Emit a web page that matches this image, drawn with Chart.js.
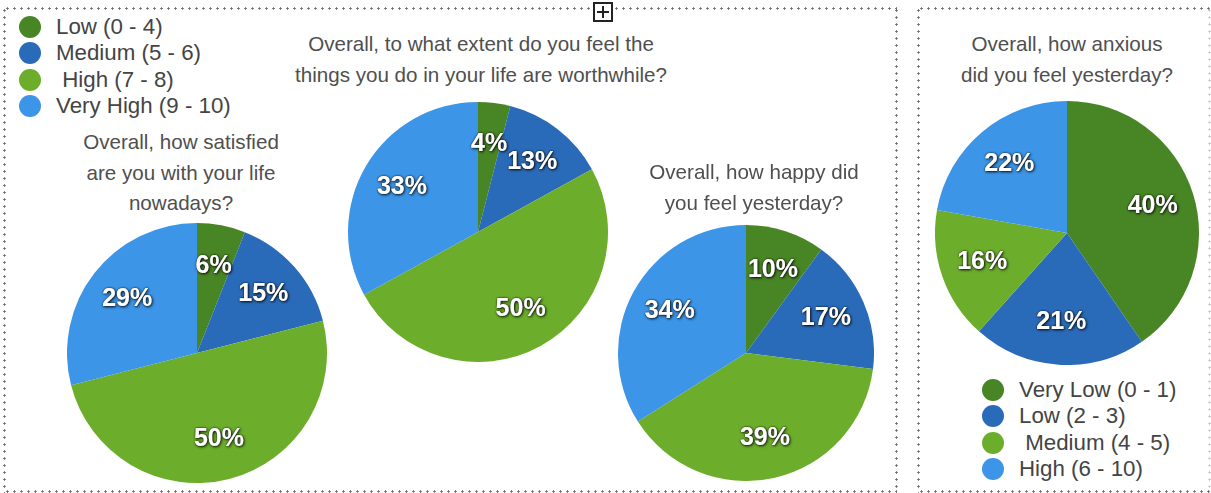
<!DOCTYPE html>
<html>
<head>
<meta charset="utf-8">
<script src="https://cdn.jsdelivr.net/npm/chart.js@4.4.1/dist/chart.umd.min.js"></script>
<style>
    body { margin: 0; background: #fff; }
    #page { position: relative; width: 1211px; height: 493px; overflow: hidden; font-family: "Liberation Sans", Arial, sans-serif; }
    .dotsH, .dotsV { position: absolute; }
    .dotsH { height: 3px; background: radial-gradient(circle, #6a6a6a 0.9px, transparent 1.4px) 0 0 / 7px 3px repeat-x; }
    .dotsV { width: 3px; background: radial-gradient(circle, #6a6a6a 0.9px, transparent 1.4px) 0 0 / 3px 7px repeat-y; }
    .pie { position: absolute; }
    .title { position: absolute; width: 460px; text-align: center; color: #4f4f4f; font-size: 20.6px; line-height: 30.5px; }
    .legend { position: absolute; color: #444; font-size: 22.3px; }
    .legend div { position: relative; height: 26.3px; line-height: 26px; padding-left: 37px; white-space: pre; }
    .legend span { position: absolute; left: 0; top: 2px; width: 22px; height: 22px; border-radius: 50%; }
    #plus { position: absolute; left: 593px; top: 2px; width: 16px; height: 16px; border: 2px solid #222; background: #fff; }
    #plus:before, #plus:after { content: ""; position: absolute; background: #222; }
    #plus:before { left: 7px; top: 2px; width: 2px; height: 12px; }
    #plus:after { left: 2px; top: 7px; width: 12px; height: 2px; }
</style>
</head>
<body>
<div id="page">
    <!-- dotted frames -->
    <div class="dotsH" style="left:4px; top:7px; width:893px"></div>
    <div class="dotsH" style="left:4px; top:490px; width:893px"></div>
    <div class="dotsV" style="left:3px; top:7px; height:486px"></div>
    <div class="dotsV" style="left:895px; top:7px; height:486px"></div>
    <div class="dotsH" style="left:918px; top:7px; width:293px"></div>
    <div class="dotsH" style="left:918px; top:490px; width:293px"></div>
    <div class="dotsV" style="left:917px; top:7px; height:486px"></div>
    <div class="dotsV" style="left:1208px; top:7px; height:486px; opacity:0.35"></div>
    <div id="plus"></div>

    <div class="legend" id="legendLife" style="left:19px; top:14px"></div>
    <div class="legend" id="legendAnx" style="left:982px; top:377px"></div>
</div>

<script>
// answer bands
const lifeBands = ['Low (0 - 4)', 'Medium (5 - 6)', ' High (7 - 8)', 'Very High (9 - 10)'];
const anxietyBands = ['Very Low (0 - 1)', 'Low (2 - 3)', ' Medium (4 - 5)', 'High (6 - 10)'];

// percentages per question
const satisfiedPct = [6, 15, 50, 29];
const worthwhilePct = [4, 13, 50, 33];
const happyPct = [10, 17, 39, 34];
const anxiousPct = [40, 21, 16, 22];

const sliceColors = ['#488524', '#2a6bb9', '#6cae2b', '#3c95e7'];

// where each pie sits on the page
const pies = [
    { values: satisfiedPct, bands: lifeBands, cx: 197, cy: 353, r: 130, tx: 181, ty: 127,
      title: ['Overall, how satisfied', 'are you with your life', 'nowadays?'] },
    { values: worthwhilePct, bands: lifeBands, cx: 478, cy: 232, r: 130, tx: 481, ty: 29,
      title: ['Overall, to what extent do you feel the', 'things you do in your life are worthwhile?'] },
    { values: happyPct, bands: lifeBands, cx: 746, cy: 353, r: 128, tx: 754, ty: 157,
      title: ['Overall, how happy did', 'you feel yesterday?'] },
    { values: anxiousPct, bands: anxietyBands, cx: 1067, cy: 233, r: 132, tx: 1067, ty: 29,
      title: ['Overall, how anxious', 'did you feel yesterday?'] }
];

// white % labels with a dark halo, placed along each slice's middle
const pctLabels = {
    id: 'pctLabels',
    afterDatasetsDraw(chart) {
        const ctx = chart.ctx;
        const meta = chart.getDatasetMeta(0);
        const vals = chart.data.datasets[0].data;
        ctx.save();
        ctx.font = 'bold 25px "Liberation Sans", Arial, sans-serif';
        ctx.textAlign = 'center';
        ctx.textBaseline = 'middle';
        meta.data.forEach(function (arc, i) {
            const p = arc.getProps(['x', 'y', 'startAngle', 'endAngle', 'outerRadius'], true);
            const mid = (p.startAngle + p.endAngle) / 2;
            const d = p.outerRadius * 0.68;
            const x = p.x + Math.cos(mid) * d;
            const y = p.y + Math.sin(mid) * d;
            const txt = vals[i] + '%';
            ctx.shadowColor = 'rgba(0,0,0,0.85)';
            ctx.shadowBlur = 3;
            ctx.shadowOffsetX = 1;
            ctx.shadowOffsetY = 1;
            ctx.fillStyle = '#fff';
            ctx.fillText(txt, x, y);
            ctx.shadowBlur = 2;
            ctx.shadowOffsetX = 0;
            ctx.shadowOffsetY = 0;
            ctx.fillText(txt, x, y);
        });
        ctx.restore();
    }
};

const page = document.getElementById('page');

pies.forEach(function (p) {
    const size = p.r * 2;
    const cv = document.createElement('canvas');
    cv.className = 'pie';
    cv.width = size;
    cv.height = size;
    cv.style.left = (p.cx - p.r) + 'px';
    cv.style.top = (p.cy - p.r) + 'px';
    cv.style.width = size + 'px';
    cv.style.height = size + 'px';
    page.appendChild(cv);

    new Chart(cv, {
        type: 'pie',
        data: {
            labels: p.bands,
            datasets: [{
                data: p.values,
                backgroundColor: sliceColors,
                borderWidth: 0
            }]
        },
        options: {
            responsive: false,
            animation: false,
            layout: { padding: 0 },
            plugins: {
                legend: { display: false },
                tooltip: { enabled: false }
            }
        },
        plugins: [pctLabels]
    });

    const t = document.createElement('div');
    t.className = 'title';
    t.style.left = (p.tx - 230) + 'px';
    t.style.top = p.ty + 'px';
    t.innerHTML = p.title.join('<br>');
    page.appendChild(t);
});

function fillLegend(id, bands) {
    const box = document.getElementById(id);
    bands.forEach(function (b, i) {
        const row = document.createElement('div');
        const dot = document.createElement('span');
        dot.style.background = sliceColors[i];
        row.appendChild(dot);
        row.appendChild(document.createTextNode(b));
        box.appendChild(row);
    });
}
fillLegend('legendLife', lifeBands);
fillLegend('legendAnx', anxietyBands);
</script>
</body>
</html>
